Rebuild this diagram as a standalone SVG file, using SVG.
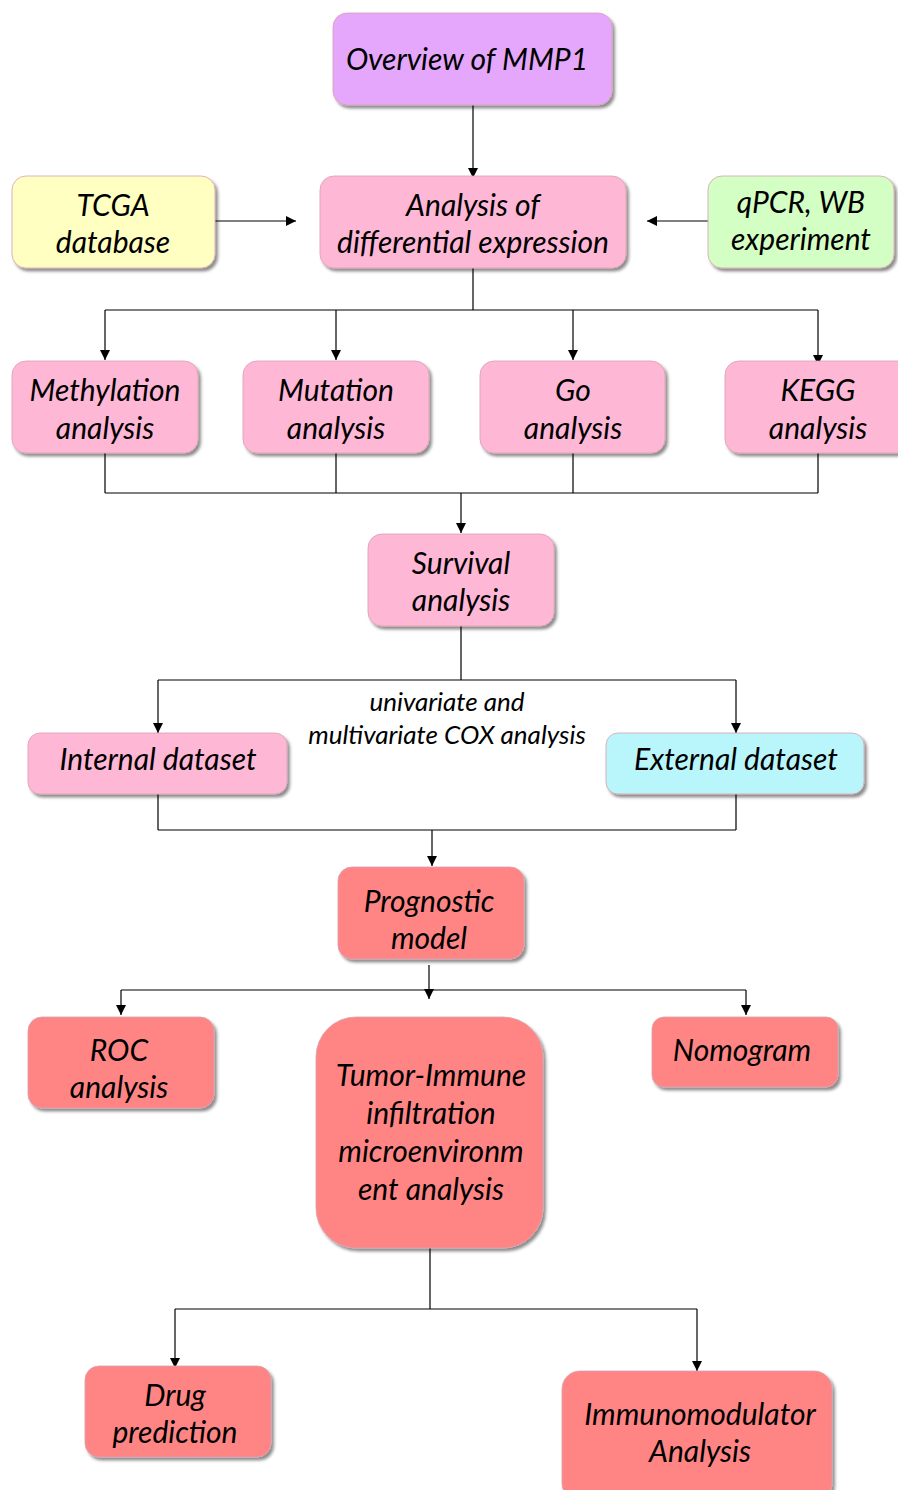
<svg xmlns="http://www.w3.org/2000/svg" width="898" height="1490" viewBox="0 0 898 1490">
<defs>
<style>
.t{font-family:Lato,"Open Sans","Liberation Sans",sans-serif;font-style:italic;font-size:30px;fill:#000;text-anchor:middle}
.s{font-size:26px}
.c{stroke:#000;stroke-width:1.2;fill:none}
.n{stroke:#d9a0b0;stroke-width:0.8;filter:url(#sh)}
</style>
<filter id="sh" x="-10%" y="-10%" width="130%" height="130%">
<feDropShadow dx="2.5" dy="3" stdDeviation="1.8" flood-color="#000" flood-opacity="0.45"/>
</filter>
<marker id="a" viewBox="0 0 10 10" refX="10" refY="5" markerWidth="10" markerHeight="10" markerUnits="userSpaceOnUse" orient="auto">
<path d="M0,0 L10,5 L0,10 z" fill="#000"/>
</marker>
</defs>
<rect width="898" height="1490" fill="#fff"/>
<g id="connectors" class="c">
<path d="M473,105 V178" marker-end="url(#a)"/>
<path d="M215,221 H296" marker-end="url(#a)"/>
<path d="M708,221 H647" marker-end="url(#a)"/>
<path d="M473,268 V310 M105,310 H818"/>
<path d="M105,310 V360" marker-end="url(#a)"/>
<path d="M336,310 V360" marker-end="url(#a)"/>
<path d="M573,310 V360" marker-end="url(#a)"/>
<path d="M818,310 V365" marker-end="url(#a)"/>
<path d="M105,453 V493 M336,453 V493 M573,453 V493 M818,453 V493 M105,493 H818"/>
<path d="M461,493 V533" marker-end="url(#a)"/>
<path d="M461,626 V680 M158,680 H736"/>
<path d="M158,680 V733" marker-end="url(#a)"/>
<path d="M736,680 V733" marker-end="url(#a)"/>
<path d="M158,794 V830 M736,794 V830 M158,830 H736"/>
<path d="M432,830 V866" marker-end="url(#a)"/>
<path d="M429,965 V999" marker-end="url(#a)"/>
<path d="M121,990 H746"/>
<path d="M121,990 V1015" marker-end="url(#a)"/>
<path d="M746,990 V1015" marker-end="url(#a)"/>
<path d="M430,1248 V1309 M175,1309 H697"/>
<path d="M175,1309 V1368" marker-end="url(#a)"/>
<path d="M697,1309 V1371" marker-end="url(#a)"/>
<text class="t s" x="447" y="711" stroke="none">univariate and</text>
<text class="t s" x="447" y="744" stroke="none">multivariate COX analysis</text>
</g>
<g id="overview"><rect class="n" x="333" y="13" width="279" height="92" rx="14" fill="#e5a7fc"/><text class="t" x="467" y="70">Overview of MMP1</text></g>
<g id="tcga"><rect class="n" x="12" y="176" width="203" height="92" rx="14" fill="#ffffc2"/><text class="t" x="113" y="216">TCGA</text><text class="t" x="113" y="253">database</text></g>
<g id="diffexp"><rect class="n" x="320" y="176" width="306" height="92" rx="14" fill="#ffb7d6"/><text class="t" x="473" y="216">Analysis of</text><text class="t" x="473" y="253">differential expression</text></g>
<g id="qpcr"><rect class="n" x="708" y="176" width="186" height="92" rx="14" fill="#d4ffc4"/><text class="t" x="801" y="213">qPCR, WB</text><text class="t" x="801" y="250">experiment</text></g>
<g id="methylation"><rect class="n" x="12" y="361" width="186" height="92" rx="14" fill="#ffb7d6"/><text class="t" x="105" y="401">Methylation</text><text class="t" x="105" y="439">analysis</text></g>
<g id="mutation"><rect class="n" x="243" y="361" width="186" height="92" rx="14" fill="#ffb7d6"/><text class="t" x="336" y="401">Mutation</text><text class="t" x="336" y="439">analysis</text></g>
<g id="go"><rect class="n" x="480" y="361" width="185" height="92" rx="14" fill="#ffb7d6"/><text class="t" x="573" y="401">Go</text><text class="t" x="573" y="439">analysis</text></g>
<g id="kegg"><rect class="n" x="725" y="361" width="186" height="92" rx="14" fill="#ffb7d6"/><text class="t" x="818" y="401">KEGG</text><text class="t" x="818" y="439">analysis</text></g>
<g id="survival"><rect class="n" x="368" y="534" width="186" height="92" rx="14" fill="#ffb7d6"/><text class="t" x="461" y="574">Survival</text><text class="t" x="461" y="611">analysis</text></g>
<g id="internal"><rect class="n" x="28" y="733" width="259" height="61" rx="12" fill="#ffb7d6"/><text class="t" x="158" y="770">Internal dataset</text></g>
<g id="external"><rect class="n" x="606" y="733" width="258" height="61" rx="12" fill="#b9f6fb"/><text class="t" x="736" y="770">External dataset</text></g>
<g id="prognostic"><rect class="n" x="338" y="867" width="186" height="92" rx="14" fill="#ff8585"/><text class="t" x="429" y="912">Prognostic</text><text class="t" x="429" y="949">model</text></g>
<g id="roc"><rect class="n" x="28" y="1017" width="186" height="91" rx="14" fill="#ff8585"/><text class="t" x="119" y="1061">ROC</text><text class="t" x="119" y="1098">analysis</text></g>
<g id="tumor"><rect class="n" x="316" y="1017" width="227" height="231" rx="40" fill="#ff8585"/><text class="t" x="431" y="1086">Tumor-Immune</text><text class="t" x="431" y="1124">infiltration</text><text class="t" x="431" y="1162">microenvironm</text><text class="t" x="431" y="1200">ent analysis</text></g>
<g id="nomogram"><rect class="n" x="652" y="1017" width="186" height="70" rx="12" fill="#ff8585"/><text class="t" x="742" y="1061">Nomogram</text></g>
<g id="drug"><rect class="n" x="85" y="1366" width="186" height="91" rx="14" fill="#ff8585"/><text class="t" x="175" y="1406">Drug</text><text class="t" x="175" y="1443">prediction</text></g>
<g id="immuno"><rect class="n" x="562" y="1371" width="270" height="130" rx="18" fill="#ff8585"/><text class="t" x="700" y="1425">Immunomodulator</text><text class="t" x="700" y="1462">Analysis</text></g>
</svg>
